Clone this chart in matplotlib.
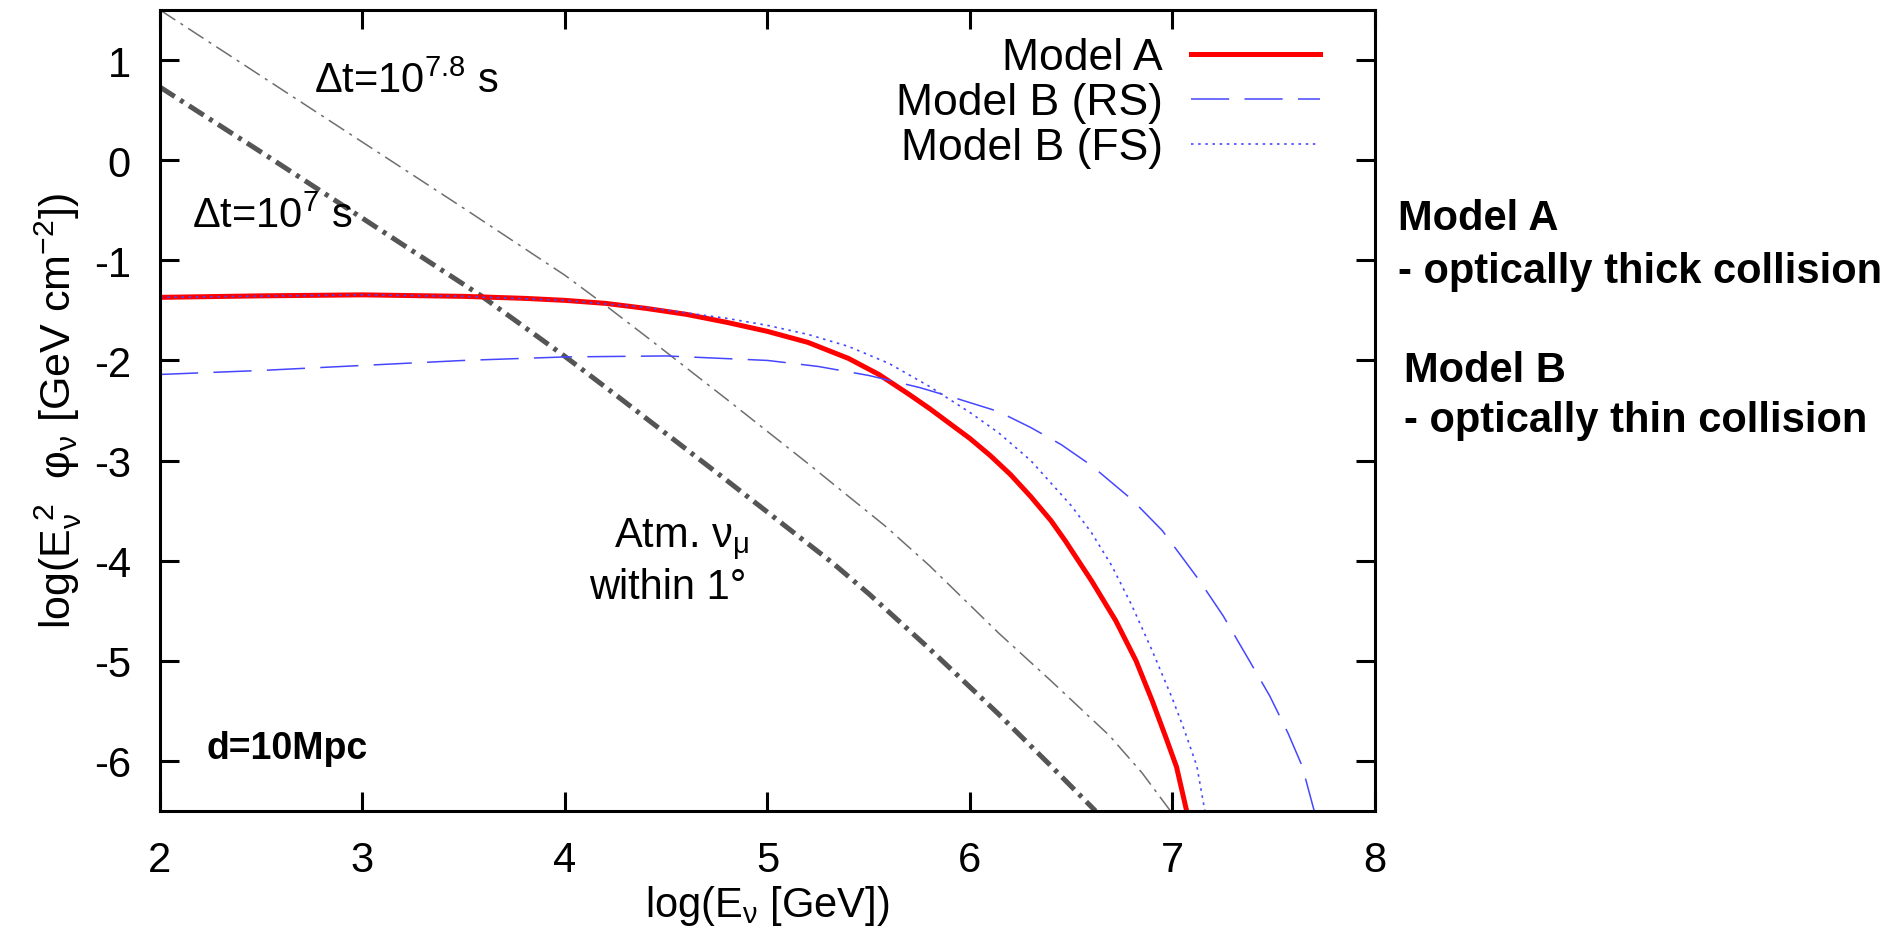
import matplotlib
matplotlib.use("Agg")
import matplotlib.pyplot as plt

plt.rcParams["font.family"] = ["Liberation Sans", "DejaVu Sans"]
plt.rcParams["mathtext.default"] = "regular"
plt.rcParams["axes.unicode_minus"] = False

# Model A (optically thick)
x_a = [2.0, 2.5, 3.0, 3.5, 3.8, 4.0, 4.2, 4.4, 4.6, 4.8, 5.0, 5.2, 5.4, 5.55, 5.7, 5.8, 5.9, 6.0, 6.1, 6.2,
       6.3, 6.4, 6.47, 6.6, 6.72, 6.82, 6.9, 6.97, 7.02, 7.07]
y_a = [-1.37, -1.355, -1.345, -1.36, -1.38, -1.40, -1.43, -1.48, -1.54, -1.62, -1.71, -1.82, -1.98, -2.14,
       -2.34, -2.48, -2.63, -2.78, -2.95, -3.14, -3.36, -3.6, -3.8, -4.2, -4.6, -5.0, -5.4, -5.78, -6.06, -6.5]

# Model B, reverse shock
x_rs = [2.0, 2.5, 3.0, 3.5, 4.0, 4.5, 5.0, 5.25, 5.5, 5.75, 5.95, 6.14, 6.3, 6.45, 6.6, 6.8, 6.95, 7.13,
        7.25, 7.38, 7.48, 7.57, 7.64, 7.7]
y_rs = [-2.14, -2.1, -2.05, -2.0, -1.965, -1.955, -2.0, -2.06, -2.15, -2.27, -2.39, -2.51, -2.67, -2.84,
        -3.05, -3.39, -3.7, -4.19, -4.55, -5.0, -5.35, -5.72, -6.05, -6.5]

# Model B, forward shock
x_fs = [2.0, 3.0, 3.5, 4.0, 4.4, 4.8, 5.0, 5.2, 5.4, 5.6, 5.8, 6.0, 6.14, 6.3, 6.5, 6.6, 6.7, 6.8, 6.9, 7.0,
        7.06, 7.12, 7.16]
y_fs = [-1.37, -1.345, -1.36, -1.40, -1.47, -1.58, -1.65, -1.74, -1.86, -2.03, -2.26, -2.52, -2.72, -3.0,
        -3.45, -3.72, -4.05, -4.45, -4.9, -5.38, -5.7, -6.05, -6.5]

# atmospheric nu_mu within 1 deg, dt = 1e7 s and 1e7.8 s
x_atm7 = [2.0, 2.5, 3.0, 3.59, 4.0, 4.28, 4.8, 5.32, 5.5, 5.8, 6.14, 6.4, 6.62]
y_atm7 = [0.73, 0.08, -0.58, -1.36, -1.96, -2.39, -3.2, -4.02, -4.33, -4.88, -5.53, -6.05, -6.5]
x_atm78 = [2.0, 2.5, 3.0, 3.5, 4.0, 4.2, 4.4, 4.8, 5.2, 5.585, 5.8, 6.14, 6.4, 6.69, 6.85, 6.99]
y_atm78 = [1.5, 0.84, 0.18, -0.48, -1.15, -1.45, -1.76, -2.39, -3.03, -3.66, -4.05, -4.72, -5.2, -5.75,
           -6.12, -6.5]

xticks = [2, 3, 4, 5, 6, 7, 8]
yticks = [1, 0, -1, -2, -3, -4, -5, -6]

fig = plt.figure(figsize=(18.99, 9.29), dpi=100)
ax = fig.add_axes([0.08425, 0.12594, 0.63981, 0.86222])

blue = "#4646ff"
ax.plot(x_atm78, y_atm78, color="#6e6e6e", lw=1.1, dashes=(12, 4, 2, 4))
ax.plot(x_atm7, y_atm7, color="#555555", lw=3.6, dashes=(3.5, 1.3, 0.8, 1.3))
ax.plot(x_a, y_a, color="#ff0000", lw=3.6, label="Model A")
ax.plot(x_rs, y_rs, color=blue, lw=1.1, dashes=(25, 10), label="Model B (RS)")
ax.plot(x_fs, y_fs, color=blue, lw=1.2, dashes=(1.5, 2.8), label="Model B (FS)")

ax.set_xlim(2, 8)
ax.set_ylim(-6.5, 1.5)
ax.set_xticks(xticks)
ax.set_yticks(yticks)
ax.tick_params(direction="in", length=14, width=2.2, top=True, right=True)
ax.tick_params(axis="x", labelsize=30, pad=21)
ax.tick_params(axis="y", labelsize=30, pad=21)
for s in ax.spines.values():
    s.set_linewidth(2.2)

ax.set_xlabel("log(E$_ν$ [GeV])", fontsize=30, va="center")
ax.xaxis.set_label_coords(0.5, -0.117)
ax.set_ylabel(r"log(E$_ν^{\;2}$  φ$_ν$ [GeV cm$^{-2}$])", fontsize=31, va="center")
ax.yaxis.set_label_coords(-0.084, 0.5)

ax.legend(loc="upper right", bbox_to_anchor=(0.955, 0.966), frameon=False, markerfirst=False,
          fontsize=32, handlelength=2.9, handletextpad=0.65, labelspacing=0.09, borderaxespad=0, borderpad=0)

ax.text(2.76, 0.68, "Δt=10$^{7.8}$ s", fontsize=30, va="baseline")
ax.text(2.16, -0.67, "Δt=10$^{7}$ s", fontsize=30, va="baseline")
ax.text(4.24, -3.86, "Atm. ν$_μ$", fontsize=30, va="baseline")
ax.text(4.12, -4.37, "within 1°", fontsize=30, va="baseline")
ax.text(2.23, -5.97, "d=10Mpc", fontsize=27, fontweight="bold", va="baseline")

fig.text(1398 / 1899, 1 - 219 / 929, "Model A", fontsize=30, fontweight="bold", va="center")
fig.text(1398 / 1899, 1 - 272 / 929, "- optically thick collision", fontsize=30, fontweight="bold", va="center")
fig.text(1404 / 1899, 1 - 371 / 929, "Model B", fontsize=30, fontweight="bold", va="center")
fig.text(1404 / 1899, 1 - 421 / 929, "- optically thin collision", fontsize=30, fontweight="bold", va="center")

fig.savefig("out.png", dpi=100)
